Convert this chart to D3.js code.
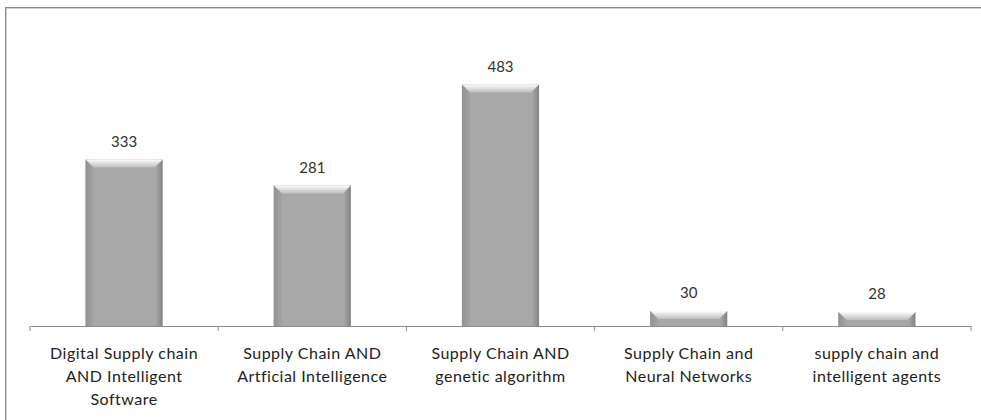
<html>
<head>
    <meta charset="UTF-8" />
    <script src="https://d3js.org/d3.v7.min.js"></script>
    <style>
        body { margin: 0; background: white; }
        text { font-family: Lato, "Open Sans", sans-serif; }
    </style>
</head>
<body>
    <svg id="svg" width="981" height="420"></svg>
    <script>
        const categories = [
            ["Digital Supply chain", "AND Intelligent", "Software"],
            ["Supply Chain AND", "Artficial Intelligence"],
            ["Supply Chain AND", "genetic algorithm"],
            ["Supply Chain and", "Neural Networks"],
            ["supply chain and", "intelligent agents"]
        ];
        const counts = [333, 281, 483, 30, 28];

        const svg = d3.select("svg#svg");
        const axisY = 326;

        // chart frame
        svg.append("rect").attr("x", 5.5).attr("y", 7.5).attr("width", 990).attr("height", 430)
            .attr("fill", "white").attr("stroke", "#8c8c8c").attr("stroke-width", 1);
        svg.append("rect").attr("x", 6.5).attr("y", 8.5).attr("width", 990).attr("height", 430)
            .attr("fill", "none").attr("stroke", "#d0d0d0").attr("stroke-width", 1);

        const idx = d3.range(counts.length);
        const x = d3.scaleBand().domain(idx).range([30, 971]).paddingInner(0.59).paddingOuter(0.295);
        const band = d3.scaleBand().domain(idx).range([30, 971]);
        const y = d3.scaleLinear().domain([0, 500]).range([axisY, 76]);

        const defs = svg.append("defs");
        const sideGrad = defs.append("linearGradient").attr("id", "side");
        sideGrad.append("stop").attr("offset", "0%").attr("stop-color", "#8a8a8a");
        sideGrad.append("stop").attr("offset", "9%").attr("stop-color", "#a8a8a8");
        sideGrad.append("stop").attr("offset", "91%").attr("stop-color", "#a8a8a8");
        sideGrad.append("stop").attr("offset", "100%").attr("stop-color", "#828282");
        const topGrad = defs.append("linearGradient").attr("id", "topg").attr("x2", 0).attr("y2", 1);
        topGrad.append("stop").attr("offset", "0%").attr("stop-color", "#fcfcfc");
        topGrad.append("stop").attr("offset", "100%").attr("stop-color", "#bdbdbd");

        const bars = svg.append("g").selectAll("g.bar").data(idx).join("g").attr("class", "bar");
        bars.append("rect")
            .attr("x", i => x(i)).attr("width", x.bandwidth())
            .attr("y", i => y(counts[i])).attr("height", i => y(0) - y(counts[i]))
            .attr("fill", "url(#side)");
        const bev = 8;
        bars.append("path")
            .attr("d", i => {
                const x0 = x(i), x1 = x(i) + x.bandwidth(), t = y(counts[i]);
                return `M${x0},${t}L${x1},${t}L${x1 - bev},${t + bev}L${x0 + bev},${t + bev}Z`;
            })
            .attr("fill", "url(#topg)");
        bars.append("path")
            .attr("d", i => {
                const x0 = x(i), t = y(counts[i]);
                return `M${x0},${t}L${x0 + bev},${t + bev}L${x0 + bev},${y(0)}L${x0},${y(0)}Z`;
            })
            .attr("fill", "#9a9a9a").attr("opacity", 0.5);

        // value labels
        svg.append("g").selectAll("text").data(idx).join("text")
            .attr("x", i => x(i) + x.bandwidth() / 2)
            .attr("y", i => y(counts[i]) - 13)
            .attr("text-anchor", "middle")
            .attr("font-size", 15).attr("fill", "#333")
            .text(i => counts[i]);

        // axis
        const axis = d3.axisBottom(band).tickSize(5).tickFormat("").tickSizeOuter(0);
        const ag = svg.append("g").attr("transform", `translate(0,${axisY})`).call(axis);
        ag.select(".domain").attr("stroke", "#8c8c8c");
        ag.selectAll(".tick").remove();
        ag.selectAll("line.t").data(d3.range(counts.length + 1)).join("line")
            .attr("class", "t")
            .attr("x1", i => i < counts.length ? band(i) : band(counts.length - 1) + band.bandwidth())
            .attr("x2", i => i < counts.length ? band(i) : band(counts.length - 1) + band.bandwidth())
            .attr("y1", 0).attr("y2", 5).attr("stroke", "#8c8c8c");

        // category labels
        const lab = svg.append("g").selectAll("text").data(idx).join("text")
            .attr("text-anchor", "middle").attr("font-size", 16).attr("letter-spacing", 0.5)
            .attr("fill", "#222");
        lab.selectAll("tspan").data(i => categories[i].map(s => ({s, i}))).join("tspan")
            .attr("x", d => band(d.i) + band.bandwidth() / 2)
            .attr("y", (d, j) => 359 + j * 23)
            .text(d => d.s);
    </script>
</body>
</html>
